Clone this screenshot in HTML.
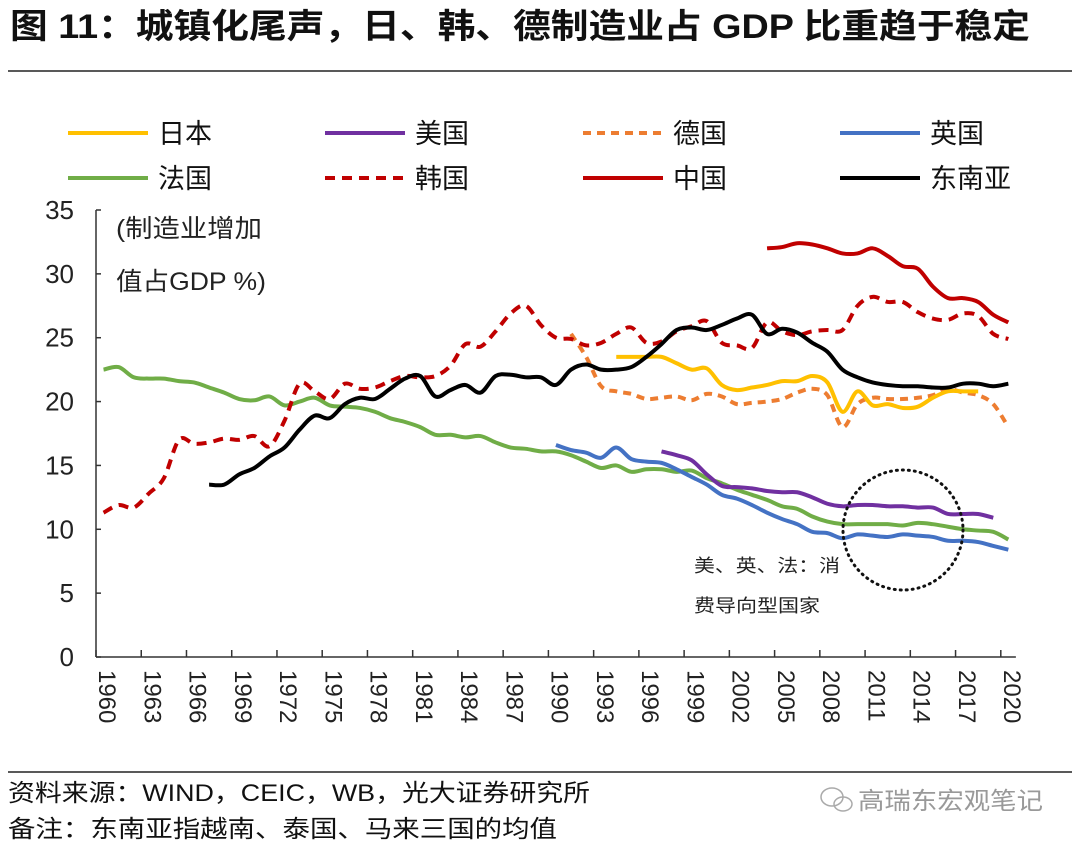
<!DOCTYPE html>
<html><head><meta charset="utf-8"><style>
body{margin:0;background:#fff;}
svg text{font-family:"Liberation Sans","Noto Sans CJK SC",sans-serif;}
</style></head><body>
<svg id="c" width="1080" height="848" viewBox="0 0 1080 848" xmlns="http://www.w3.org/2000/svg">
<text x="10" y="38" font-size="34" font-weight="bold" fill="#111" textLength="1020" lengthAdjust="spacingAndGlyphs">图 11：城镇化尾声，日、韩、德制造业占 GDP 比重趋于稳定</text>
<line x1="8" y1="71" x2="1072" y2="71" stroke="#222" stroke-width="1.5"/>
<g id="legend"></g>
<g id="axes"></g>
<g id="series"></g>
<text x="116" y="237" font-size="25" fill="#222" textLength="146" lengthAdjust="spacingAndGlyphs">(制造业增加</text>
<text x="116" y="290" font-size="25" fill="#222" textLength="150" lengthAdjust="spacingAndGlyphs">值占GDP %)</text>
<circle cx="903" cy="530" r="60" fill="none" stroke="#111" stroke-width="3" stroke-dasharray="1 5" stroke-linecap="round"/>
<text x="694" y="572" font-size="18" fill="#222" textLength="146" lengthAdjust="spacingAndGlyphs">美、英、法：消</text>
<text x="694" y="612" font-size="18" fill="#222" textLength="126" lengthAdjust="spacingAndGlyphs">费导向型国家</text>
<line x1="8" y1="772" x2="1072" y2="772" stroke="#222" stroke-width="1.5"/>
<text x="8" y="801" font-size="24" fill="#111" textLength="582" lengthAdjust="spacingAndGlyphs">资料来源：WIND，CEIC，WB，光大证券研究所</text>
<text x="8" y="837" font-size="24" fill="#111" textLength="549" lengthAdjust="spacingAndGlyphs">备注：东南亚指越南、泰国、马来三国的均值</text>
<text x="858" y="809" font-size="24" fill="#999" textLength="185" lengthAdjust="spacingAndGlyphs">高瑞东宏观笔记</text>
<g fill="none" stroke="#aaa" stroke-width="1.5"><ellipse cx="832" cy="797" rx="11" ry="9"/><ellipse cx="843" cy="804" rx="9" ry="7"/></g>
</svg>
<script>
const years = []; for (let y = 1960; y <= 2020; y++) years.push(y);
const yTicks = [0,5,10,15,20,25,30,35];
const xTickLabels = [1960,1963,1966,1969,1972,1975,1978,1981,1984,1987,1990,1993,1996,1999,2002,2005,2008,2011,2014,2017,2020];
const franceStart = 1960;
const franceVals = [22.5,22.7,21.9,21.8,21.8,21.6,21.5,21.1,20.7,20.2,20.1,20.4,19.7,20.0,20.3,19.7,19.6,19.5,19.2,18.7,18.4,18.0,17.4,17.4,17.2,17.3,16.8,16.4,16.3,16.1,16.1,15.8,15.3,14.8,15.0,14.5,14.7,14.7,14.5,14.6,14.0,13.6,13.1,12.7,12.3,11.8,11.6,11.0,10.6,10.4,10.4,10.4,10.4,10.3,10.5,10.4,10.2,10.0,9.9,9.8,9.2];
const koreaStart = 1960;
const koreaVals = [11.3,11.9,11.7,12.8,14.0,17.0,16.7,16.8,17.1,17.0,17.3,16.5,18.5,21.4,20.8,20.2,21.4,21.0,21.1,21.6,22.0,21.9,22.0,22.8,24.5,24.3,25.5,26.9,27.5,26.0,25.0,24.9,24.4,24.6,25.3,25.8,24.6,24.7,25.5,25.9,26.3,24.6,24.4,24.2,26.2,25.5,25.2,25.5,25.6,25.6,27.5,28.2,27.8,27.8,27.0,26.5,26.4,26.9,26.7,25.3,24.9];
const seaStart = 1967;
const seaVals = [13.5,13.5,14.3,14.8,15.7,16.4,17.8,18.9,18.7,19.8,20.3,20.2,21.0,21.8,22.0,20.4,20.9,21.3,20.7,22.0,22.1,21.9,21.9,21.3,22.5,22.9,22.5,22.5,22.7,23.5,24.5,25.6,25.8,25.6,26.0,26.5,26.8,25.3,25.7,25.4,24.6,23.9,22.5,21.9,21.5,21.3,21.2,21.2,21.1,21.1,21.4,21.4,21.2,21.4];
const chinaStart = 2004;
const chinaVals = [32.0,32.1,32.4,32.3,32.0,31.6,31.6,32.0,31.4,30.6,30.4,29.0,28.1,28.1,27.8,26.8,26.2];
const japanStart = 1994;
const japanVals = [23.5,23.5,23.5,23.5,23.0,22.5,22.6,21.3,20.9,21.1,21.3,21.6,21.6,22.0,21.5,19.2,20.8,19.7,19.8,19.5,19.6,20.3,20.8,20.8,20.8];
const germanyStart = 1991;
const germanyVals = [25.3,23.5,21.2,20.8,20.6,20.2,20.3,20.4,20.1,20.6,20.4,19.8,19.9,20.0,20.2,20.7,21.0,20.5,18.0,19.8,20.3,20.2,20.2,20.3,20.5,21.0,20.7,20.5,19.8,18.0];
const ukStart = 1990;
const ukVals = [16.6,16.2,16.0,15.6,16.4,15.5,15.3,15.2,14.7,14.1,13.5,12.7,12.4,11.9,11.3,10.8,10.4,9.8,9.7,9.3,9.6,9.5,9.4,9.6,9.5,9.4,9.1,9.1,9.0,8.7,8.4];
const usStart = 1997;
const usVals = [16.1,15.8,15.4,14.3,13.4,13.3,13.2,13.0,12.9,12.9,12.5,12.0,11.8,11.9,11.9,11.8,11.8,11.7,11.7,11.2,11.2,11.2,10.9];

const NS = 'http://www.w3.org/2000/svg';
const X0 = 96, BW = 15.08, Y0 = 657, PU = (657 - 210) / 35;
function xBand(y){ return X0 + (y - 1960) * BW; }
function xPos(y){ return X0 + (y - 1960 + 0.5) * BW; }
function yPos(v){ return Y0 - v * PU; }
function mk(tag, attrs, parent){ const e = document.createElementNS(NS, tag); for (const k in attrs) e.setAttribute(k, attrs[k]); parent.appendChild(e); return e; }

const axes = document.getElementById('axes');
let e = mk('line', {x1:X0, y1:210, x2:X0, y2:Y0, stroke:'#333', 'stroke-width':1.5}, axes);


e = mk('line', {x1:X0, y1:Y0, x2:xBand(2021), y2:Y0, stroke:'#333', 'stroke-width':1.5}, axes);


yTicks.forEach(v => {
  const t = mk('line', {x1:X0, y1:yPos(v), x2:X0+5, y2:yPos(v), stroke:'#333', 'stroke-width':1.5}, axes);
  
  
  const l = mk('text', {x:74, y:yPos(v)+9, 'font-size':26, 'text-anchor':'end', fill:'#222'}, axes);
  l.textContent = v;
  
  
});
xTickLabels.forEach(yr => {
  const t = mk('line', {x1:xBand(yr), y1:Y0, x2:xBand(yr), y2:Y0-7, stroke:'#333', 'stroke-width':1.5}, axes);
  
  
  const cx = xPos(yr) + 2;
  const l = mk('text', {x:cx, y:670, 'font-size':24, fill:'#222', transform:`rotate(90 ${cx} 670)`, 'dominant-baseline':'middle'}, axes);
  l.textContent = yr;
  
  
});

function smoothPath(pts){
  let d = `M${pts[0][0]},${pts[0][1]}`;
  for (let i = 0; i < pts.length - 1; i++) {
    const p0 = pts[i-1] || pts[i], p1 = pts[i], p2 = pts[i+1], p3 = pts[i+2] || p2;
    const c1x = p1[0] + (p2[0]-p0[0])/6, c1y = p1[1] + (p2[1]-p0[1])/6;
    const c2x = p2[0] - (p3[0]-p1[0])/6, c2y = p2[1] - (p3[1]-p1[1])/6;
    d += ` C${c1x},${c1y} ${c2x},${c2y} ${p2[0]},${p2[1]}`;
  }
  return d;
}
const series = document.getElementById('series');
const defs = [
  ['france', franceStart, franceVals, '#70ad47', ''],
  ['uk', ukStart, ukVals, '#4472c4', ''],
  ['us', usStart, usVals, '#7030a0', ''],
  ['germany', germanyStart, germanyVals, '#ed7d31', '8 6'],
  ['japan', japanStart, japanVals, '#ffc000', ''],
  ['korea', koreaStart, koreaVals, '#c00000', '10 7'],
  ['sea', seaStart, seaVals, '#000000', ''],
  ['china', chinaStart, chinaVals, '#c00000', '']
];
defs.forEach(([name, start, vals, col, dash]) => {
  const pts = vals.map((v, i) => [xPos(start + i), yPos(v)]);
  const p = mk('path', {d:smoothPath(pts), fill:'none', stroke:col, 'stroke-width':4, 'stroke-dasharray':dash, 'stroke-linejoin':'round'}, series);
  
  
});

const legendItems = [
  ['日本','#ffc000','',68,133],['美国','#7030a0','',325,133],['德国','#ed7d31','8 6',583,133],['英国','#4472c4','',840,133],
  ['法国','#70ad47','',68,178],['韩国','#c00000','10 7',325,178],['中国','#c00000','',583,178],['东南亚','#000000','',840,178]
];
const lg = document.getElementById('legend');
legendItems.forEach(([lab, col, dash, x, y]) => {
  const l = mk('line', {x1:x, y1:y, x2:x+80, y2:y, stroke:col, 'stroke-width':4, 'stroke-dasharray':dash}, lg);
  
  
  const t = mk('text', {x:x+90, y:y+10, 'font-size':27, fill:'#111'}, lg);
  t.textContent = lab;
  
  
});
</script>
</body></html>
